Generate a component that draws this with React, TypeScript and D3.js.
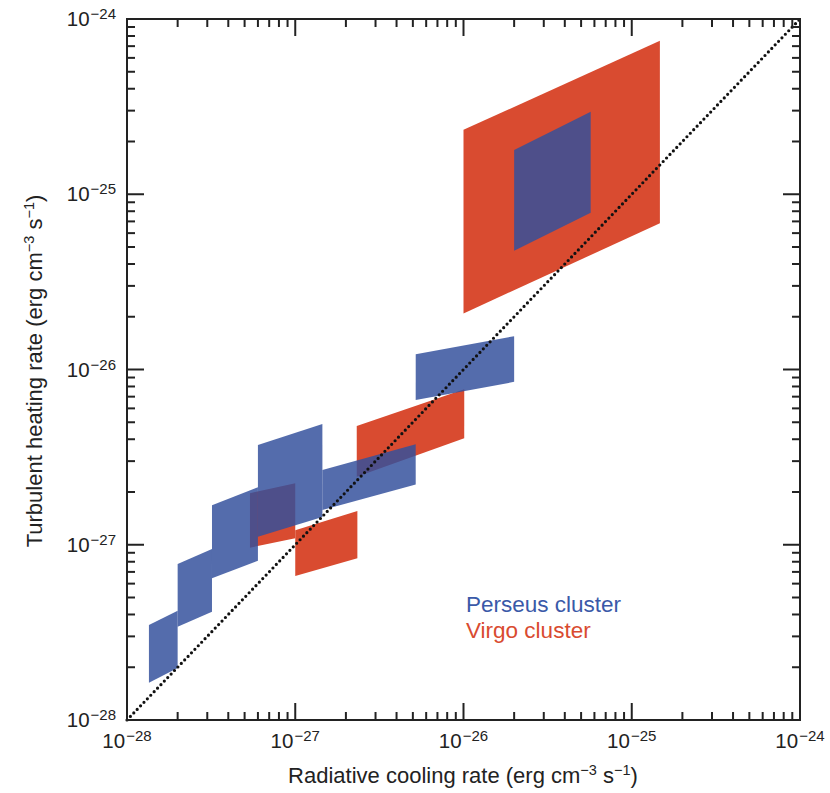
import React from 'react'
import * as d3 from 'd3'

// Perseus (blue) patches: x range, heating band at left and right edge
const persX0 = [1.35e-28, 2.0e-28, 3.2e-28, 6.0e-28, 1.45e-27, 5.2e-27, 2.0e-26]
const persX1 = [2.0e-28, 3.2e-28, 6.0e-28, 1.45e-27, 5.2e-27, 2.0e-26, 5.7e-26]
const persLeftLo = [1.63e-28, 3.41e-28, 6.44e-28, 1.11e-27, 1.58e-27, 6.7e-27, 4.76e-26]
const persLeftHi = [3.48e-28, 7.77e-28, 1.68e-27, 3.71e-27, 2.67e-27, 1.22e-26, 1.79e-25]
const persRightLo = [1.98e-28, 4.15e-28, 8.11e-28, 1.44e-27, 2.21e-27, 8.5e-27, 7.85e-26]
const persRightHi = [4.2e-28, 9.46e-28, 2.13e-27, 4.89e-27, 3.74e-27, 1.55e-26, 2.96e-25]

// Virgo (red) patches
const virgoX0 = [1.0e-26, 2.32e-27, 1.0e-27, 5.38e-28]
const virgoX1 = [1.47e-25, 1.01e-26, 2.34e-27, 1.0e-27]
const virgoLeftLo = [2.09e-26, 2.44e-27, 6.63e-28, 9.62e-28]
const virgoLeftHi = [2.33e-25, 4.76e-27, 1.21e-27, 1.97e-27]
const virgoRightLo = [6.83e-26, 4.05e-27, 8.37e-28, 1.09e-27]
const virgoRightHi = [7.52e-25, 7.71e-27, 1.56e-27, 2.24e-27]

const domain = [1e-28, 1e-24]
const decadeExps = [-28, -27, -26, -25, -24]

const BLUE = '#33509c'
const RED = '#d94b30'
const FONT = '"Liberation Sans", Arial, Helvetica, sans-serif'

function App() {
    const width = 830
    const height = 793
    const left = 127, right = 800, top = 19, bottom = 720

    const x = d3.scaleLog().domain(domain).range([left, right])
    const y = d3.scaleLog().domain(domain).range([bottom, top])

    const line = d3.line<[number, number]>()
        .x(d => x(d[0]))
        .y(d => y(d[1]))

    const patch = (x0: number, x1: number, lLo: number, lHi: number, rLo: number, rHi: number) =>
        line([[x0, lLo], [x0, lHi], [x1, rHi], [x1, rLo]]) + 'Z'

    const tickVals = x.ticks()
    const isMajor = (v: number) => Math.abs(Math.log10(v) - Math.round(Math.log10(v))) < 1e-6
    const major = 17, minor = 8

    const exp = (e: number) => (
        <>
            10<tspan fontSize={15} dx={1} dy={-7}>{'\u2212' + Math.abs(e)}</tspan>
        </>
    )

    return (
        <svg width={width} height={height} style={{ position: 'absolute', left: 0, top: 0 }} fontFamily={FONT}>
            <rect x={0} y={0} width={width} height={height} fill="#fff" />

            {/* Virgo */}
            {virgoX0.map((x0, i) => (
                <path key={'v' + i}
                    d={patch(x0, virgoX1[i], virgoLeftLo[i], virgoLeftHi[i], virgoRightLo[i], virgoRightHi[i])}
                    fill={RED} />
            ))}
            {/* Perseus */}
            {persX0.map((x0, i) => (
                <path key={'p' + i}
                    d={patch(x0, persX1[i], persLeftLo[i], persLeftHi[i], persRightLo[i], persRightHi[i])}
                    fill={BLUE} fillOpacity={0.84} />
            ))}

            {/* one-to-one line */}
            <path d={line([[domain[0], domain[0]], [domain[1], domain[1]]])!}
                stroke="#111" strokeWidth={3.2} strokeDasharray="0 4.9" strokeLinecap="round" fill="none" />

            {/* ticks */}
            {tickVals.map((v, i) => {
                const len = isMajor(v) ? major : minor
                return (
                    <g key={'t' + i} stroke="#222" strokeWidth={2}>
                        <line x1={x(v)} x2={x(v)} y1={bottom} y2={bottom - len} />
                        <line x1={x(v)} x2={x(v)} y1={top} y2={top + len} />
                        <line y1={y(v)} y2={y(v)} x1={left} x2={left + len} />
                        <line y1={y(v)} y2={y(v)} x1={right} x2={right - len} />
                    </g>
                )
            })}
            <rect x={left} y={top} width={right - left} height={bottom - top} fill="none" stroke="#222" strokeWidth={2} />

            {/* tick labels */}
            {decadeExps.map(e => (
                <text key={'xl' + e} x={x(Math.pow(10, e))} y={bottom + 28} textAnchor="middle" fontSize={20.5} fill="#222">
                    {exp(e)}
                </text>
            ))}
            {decadeExps.map(e => (
                <text key={'yl' + e} x={left - 11} y={y(Math.pow(10, e)) + 7} textAnchor="end" fontSize={20.5} fill="#222">
                    {exp(e)}
                </text>
            ))}

            {/* axis titles */}
            <text x={463} y={783} textAnchor="middle" fontSize={22} fill="#222">
                Radiative cooling rate (erg cm<tspan fontSize={14.5} dy={-8}>{'\u22123'}</tspan>
                <tspan dy={8}> s</tspan><tspan fontSize={14.5} dy={-8}>{'\u22121'}</tspan><tspan dy={8}>)</tspan>
            </text>
            <text transform={`translate(42, 371) rotate(-90)`} textAnchor="middle" fontSize={22} fill="#222">
                Turbulent heating rate (erg cm<tspan fontSize={14.5} dy={-8}>{'\u22123'}</tspan>
                <tspan dy={8}> s</tspan><tspan fontSize={14.5} dy={-8}>{'\u22121'}</tspan><tspan dy={8}>)</tspan>
            </text>

            {/* legend */}
            <text x={466} y={612} fontSize={22.5} fill="#3a59a8">Perseus cluster</text>
            <text x={466} y={638} fontSize={22.5} fill={RED}>Virgo cluster</text>
        </svg>
    )
}

export default App
